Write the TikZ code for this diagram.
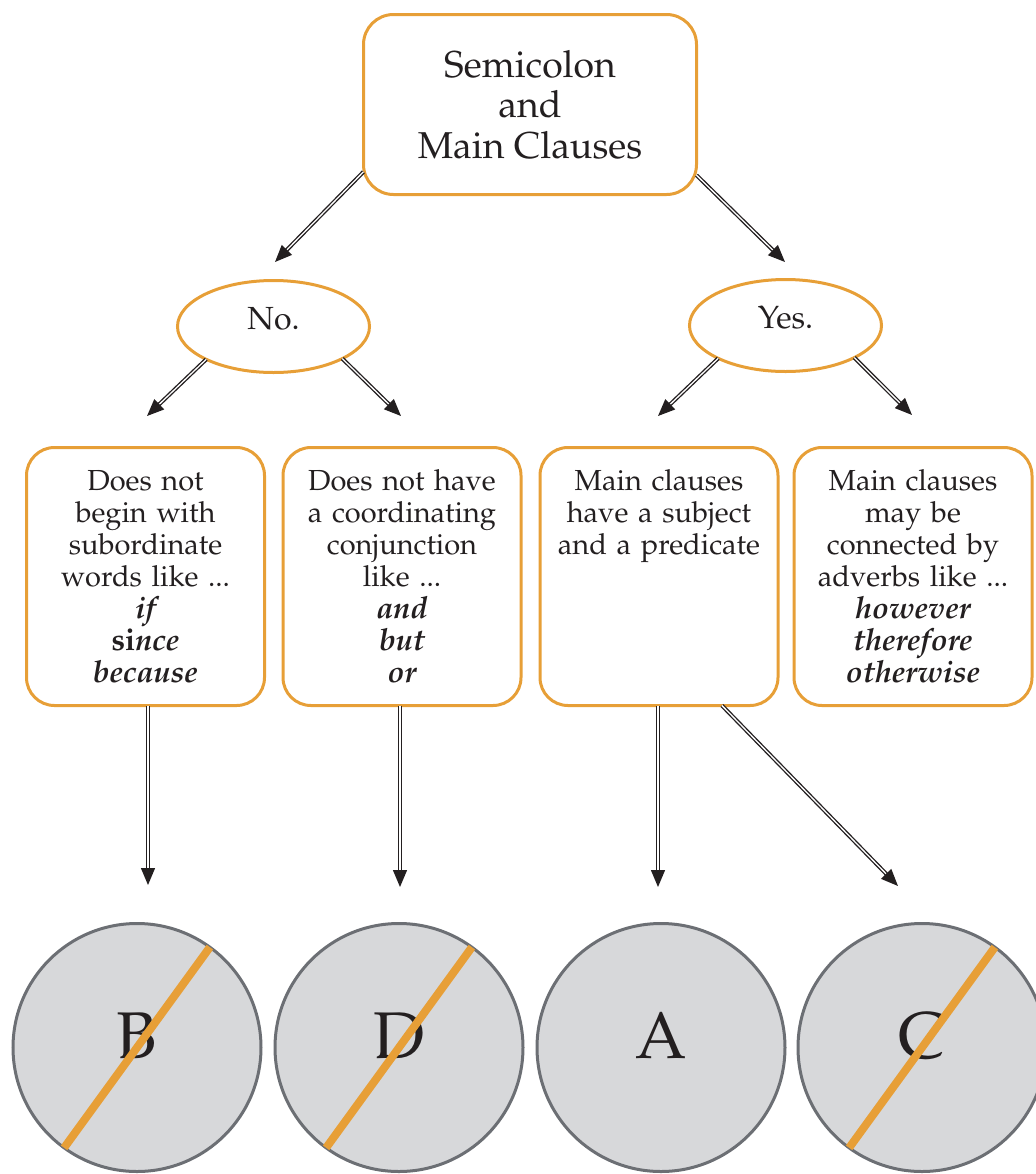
\documentclass[tikz,border=0pt]{standalone}
\usepackage[T1]{fontenc}
\usepackage{mathpazo}
\usetikzlibrary{arrows.meta,shapes.geometric}

\definecolor{amber}{RGB}{231,159,55}
\definecolor{disc}{RGB}{215,216,218}
\definecolor{rim}{RGB}{108,111,116}
\definecolor{ink}{RGB}{35,31,32}

% bold italic example words
\newcommand{\ex}[1]{{\fontsize{15.3}{16}\selectfont\bfseries\itshape #1}}

\tikzset{
  x=0.5pt, y=-0.5pt,
  every node/.style={text=ink, inner sep=0pt, outer sep=0pt},
  titlebox/.style={draw=amber, line width=1.5pt, rounded corners=15pt,
    minimum width=166.5pt, minimum height=90pt, align=center,
    font=\fontsize{18.7}{20.25}\selectfont},
  answer/.style={ellipse, draw=amber, line width=1.5pt,
    minimum width=96pt, minimum height=46pt},
  answertext/.style={anchor=base, font=\fontsize{16}{18}\selectfont},
  rulebox/.style={draw=amber, line width=1.5pt, rounded corners=14pt,
    minimum width=119pt, minimum height=129pt},
  ruletext/.style={anchor=base, text width=117pt, align=center,
    font=\fontsize{14.5}{16}\selectfont},
  verdict/.style={circle, draw=rim, fill=disc, line width=1.5pt,
    minimum size=124pt},
  letter/.style={anchor=base, font=\fontsize{33}{36}\selectfont},
  slash/.style={draw=amber, line width=4pt},
  link/.style={draw=ink, double=white, double distance=0.65pt,
    line width=0.67pt,
    -{Triangle[length=8.5pt,width=7pt,fill=ink]}}
}

\begin{document}
\begin{tikzpicture}
\useasboundingbox (0,0) rectangle (1036,1174);
\clip (0,0) rectangle (1036,1174);

% question
\node[titlebox] (top) at (530,104.5) {Semicolon\\and\\Main Clauses};

% answers
\node[answer] (no)  at (273.5,326.5) {};
\node[answer] (yes) at (785.5,325.5) {};
\node[answertext] (noT)  at ([yshift=-1.25pt]no.center)  {No.};
\node[answertext] (yesT) at ([yshift=-1.25pt]yes.center) {Yes.};

% rules
\node[rulebox] (b1) at (145.5,576.5) {};
\node[rulebox] (b2) at (402,576.5) {};
\node[rulebox] (b3) at (659,576.5) {};
\node[rulebox] (b4) at (913,576.5) {};

\node[ruletext] (b1t) at ([yshift=-21.5pt]b1.north)
  {Does not\\begin with\\subordinate\\words like ...\\
   \ex{if}\\{\fontsize{15.3}{16}\selectfont\bfseries si\itshape nce}\\\ex{because}};
\node[ruletext] (b2t) at ([yshift=-21.5pt]b2.north)
  {Does not have\\a coordinating\\conjunction\\like ...\\
   \ex{and}\\\ex{but}\\\ex{or}};
\node[ruletext] (b3t) at ([yshift=-21.5pt]b3.north)
  {Main clauses\\have a subject\\and a predicate};
\node[ruletext] (b4t) at ([yshift=-21.5pt]b4.north)
  {Main clauses\\may be\\connected by\\adverbs like ...\\
   \ex{however}\\\ex{therefore}\\\ex{otherwise}};

% verdicts
\node[verdict] (cB) at (137,1047.5) {};
\node[verdict] (cD) at (399,1047.5) {};
\node[verdict] (cA) at (661,1047.5) {};
\node[verdict] (cC) at (922,1047.5) {};
\node[letter] (lB) at ([yshift=-5.5pt]cB.center) {B};
\node[letter] (lD) at ([yshift=-5.5pt]cD.center) {D};
\node[letter] (lA) at ([yshift=-5.5pt]cA.center) {A};
\node[letter] (lC) at ([yshift=-5.5pt]cC.center) {C};
\draw[slash] (cB.54.5) -- (cB.234.5);
\draw[slash] (cD.54.5) -- (cD.234.5);
\draw[slash] (cC.54.5) -- (cC.234.5);

% arrow tips
\coordinate (tNo)  at (275,262);
\coordinate (tYes) at (785,262);
\coordinate (t1) at (147,416);
\coordinate (t2) at (401,416);
\coordinate (t3) at (658,416);
\coordinate (t4) at (912,415);
\coordinate (v1) at (148,885);
\coordinate (v2) at (400,887);
\coordinate (v3) at (658,887);
\coordinate (v4) at (898,886);

% connectors
\draw[link] (top.202.6) -- (tNo);
\draw[link] (top.-23.3) -- (tYes);
\draw[link] (no.206.4) -- (t1);
\draw[link] (no.-25.8) -- (t2);
\draw[link] (yes.206.4) -- (t3);
\draw[link] (yes.-25.8) -- (t4);
\draw[link] (v1 |- b1.south) -- (v1);
\draw[link] (v2 |- b2.south) -- (v2);
\draw[link] (v3 |- b3.south) -- (v3);
\draw[link] (b3.-64.9) -- (v4);
\end{tikzpicture}
\end{document}
